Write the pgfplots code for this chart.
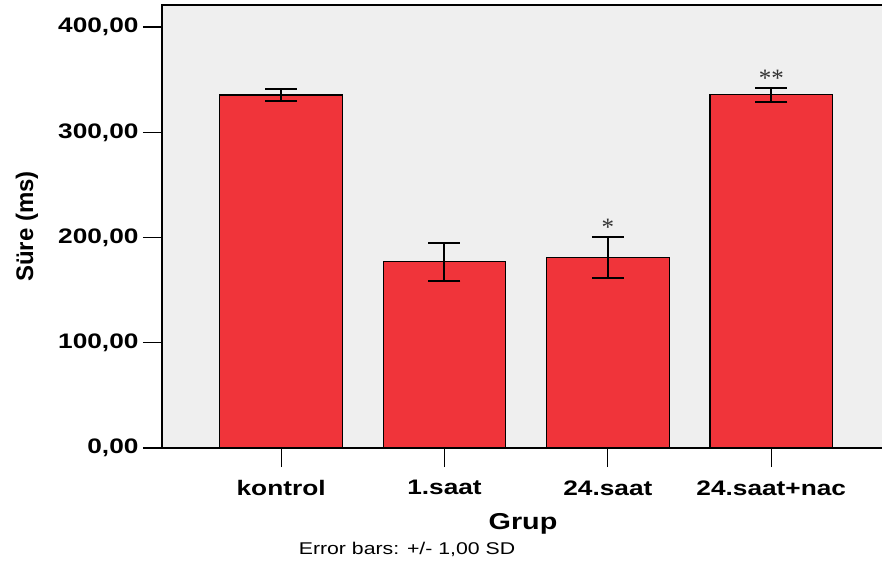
\documentclass[border=0pt]{standalone}
\usepackage{pgfplots}
\pgfplotsset{compat=1.18}
\usepackage{fontspec}
\setmainfont{Liberation Sans}
\newfontfamily\widefont{Liberation Sans}[FakeStretch=1.25]
\newfontfamily\seriffont{Liberation Serif}
\definecolor{barred}{RGB}{240,52,58}
\definecolor{bg}{RGB}{239,239,239}
\begin{document}
\begin{tikzpicture}[x=1pt,y=1pt]
\useasboundingbox (-162pt,-119pt) rectangle (720pt,448pt);
\begin{axis}[
  at={(0,0)}, anchor=south west,
  scale only axis, width=722pt, height=443pt,
  xmin=-0.729, xmax=3.69, ymin=0, ymax=421,
  axis background/.style={fill=bg},
  axis line style={black, line width=1.2pt},
  xtick={0,1,2,3},
  xticklabels={kontrol,1.saat,24.saat,24.saat+nac},
  ytick={0,100,200,300,400},
  tick align=outside,
  major tick length=19pt,
  tick style={black, line width=1.2pt},
  xtick pos=bottom, ytick pos=left,
  tick label style={font=\widefont\fontsize{21}{24}\selectfont\bfseries},
  /pgf/number format/.cd, fixed, fixed zerofill, precision=2, use comma, 1000 sep={}, assume math mode=true,
  /pgfplots/.cd,
  yticklabel style={xshift=-1pt},
  xticklabel style={yshift=-10pt},
  ylabel={Süre (ms)},
  ylabel style={font=\fontsize{24}{28}\selectfont\bfseries, at={(axis description cs:0,0.5)}, anchor=center, yshift=135pt},
  xlabel={Grup},
  xlabel style={font=\widefont\fontsize{23}{27}\selectfont\bfseries, yshift=-11pt},
  clip=false,
]
\addplot[ybar, bar width=0.75, fill=barred, draw=black, line width=1.2pt,
  error bars/.cd, y dir=both, y explicit,
  error bar style={black, line width=2pt},
  error mark options={black, line width=2pt, mark size=16pt, rotate=90}]
  coordinates {
  (0,335.4) +- (0,5.4)
  (1,177.0) +- (0,18.2)
  (2,181.2) +- (0,19.3)
  (3,335.7) +- (0,6.8)
  };
\node[font=\seriffont\fontsize{25}{25}\selectfont, inner sep=0pt, anchor=north, color=black!80] at (axis cs:2,218) {*};
\node[font=\seriffont\fontsize{25}{25}\selectfont, inner sep=0pt, anchor=north, color=black!80] at (axis cs:3,359) {**};
\end{axis}
\node[font=\widefont\fontsize{17}{20}\selectfont, anchor=base] at (245pt,-106pt) {Error bars: +/- 1,00 SD};
\end{tikzpicture}
\end{document}
